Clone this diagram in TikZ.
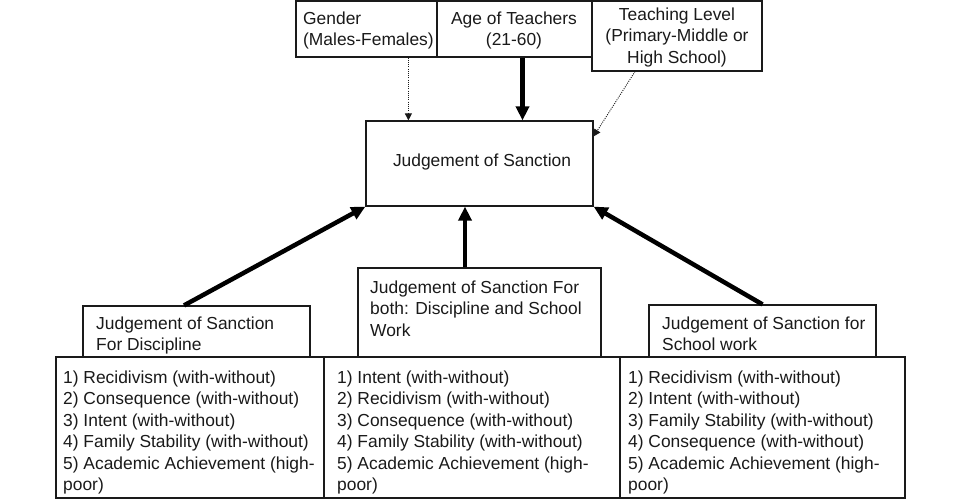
\documentclass[tikz,border=0pt]{standalone}
\usepackage{fontspec}
\setmainfont{Liberation Sans}
\usetikzlibrary{arrows.meta,calc}
\definecolor{ink}{HTML}{1A1A1A}
\begin{document}
\begin{tikzpicture}[x=1pt,y=-1pt,
  box/.style={draw=ink,line width=1.2pt,inner sep=0pt},
  txt/.style={text=ink,font=\fontsize{17.4}{21.5}\selectfont,inner sep=0pt},
  thick arrow/.style={draw=black,line width=4.5pt,-{Triangle[length=14pt,width=13pt]}},
  dot arrow/.style={draw=ink,line width=0.9pt,dash pattern=on 1pt off 1.2pt,-{Triangle[length=7pt,width=7pt]}}]
\useasboundingbox[fill=white] (0,0) rectangle (960,500);
% boxes
\node[box,minimum width=141pt,minimum height=56pt] (gender) at (366.5,29) {};
\node[box,minimum width=155pt,minimum height=56pt] (age) at (514.5,29) {};
\node[box,minimum width=170pt,minimum height=70pt] (teach) at (677,36) {};
\node[box,minimum width=227pt,minimum height=85pt] (jos) at (479.5,163.5) {};
\node[box,minimum width=227pt,minimum height=51pt] (disc) at (196.5,331.5) {};
\node[box,minimum width=243pt,minimum height=89pt] (both) at (479.5,312.5) {};
\node[box,minimum width=227pt,minimum height=52pt] (school) at (762.5,331) {};
\node[box,minimum width=268pt,minimum height=141pt] (l1) at (190,427.5) {};
\node[box,minimum width=296pt,minimum height=141pt] (l2) at (472,427.5) {};
\node[box,minimum width=285pt,minimum height=141pt] (l3) at (762.5,427.5) {};
% texts
\node[txt,align=left,anchor=north west] (tgender) at (303,11.5) {Gender\\(Males-Females)};
\node[txt,align=center,anchor=north] (tage) at (514,11.5) {Age of Teachers\\(21-60)};
\node[txt,align=center,anchor=north] (tteach) at (677,7.5) {Teaching Level\\(Primary-Middle or\\High School)};
\node[txt,anchor=center] (tjos) at (482,162) {Judgement of Sanction};
\node[txt,align=left,anchor=north west] (tdisc) at (96,316.5) {Judgement of Sanction\\For Discipline};
\node[txt,align=left,anchor=north west] (tboth) at (370,280.5) {Judgement of Sanction For\\both: Discipline and School\\Work};
\node[txt,align=left,anchor=north west] (tschool) at (662,316.5) {Judgement of Sanction for\\School work};
\node[txt,align=left,anchor=north west] (tl1) at (63,370.5) {1) Recidivism (with-without)\\2) Consequence (with-without)\\3) Intent (with-without)\\4) Family Stability (with-without)\\5) Academic Achievement (high-\\poor)};
\node[txt,align=left,anchor=north west] (tl2) at (337,370.5) {1) Intent (with-without)\\2) Recidivism (with-without)\\3) Consequence (with-without)\\4) Family Stability (with-without)\\5) Academic Achievement (high-\\poor)};
\node[txt,align=left,anchor=north west] (tl3) at (628,370.5) {1) Recidivism (with-without)\\2) Intent (with-without)\\3) Family Stability (with-without)\\4) Consequence (with-without)\\5) Academic Achievement (high-\\poor)};
% connectors
\coordinate (gx) at ([xshift=43pt]jos.north west);
\draw[dot arrow] (gender.south -| gx) -- (gx);
\coordinate (ax) at ([xshift=8pt]age.south);
\draw[thick arrow] (ax) -- (ax |- jos.north);
\draw[dot arrow] ([xshift=-42pt]teach.south) -- ([yshift=-16pt]jos.north east);
\draw[thick arrow] ([xshift=-12.5pt]disc.north) -- (jos.south west);
\draw[thick arrow] (school.north) -- (jos.south east);
\coordinate (bx) at ([xshift=-14.5pt]both.north);
\draw[thick arrow] (bx) -- (bx |- jos.south);
\end{tikzpicture}
\end{document}
